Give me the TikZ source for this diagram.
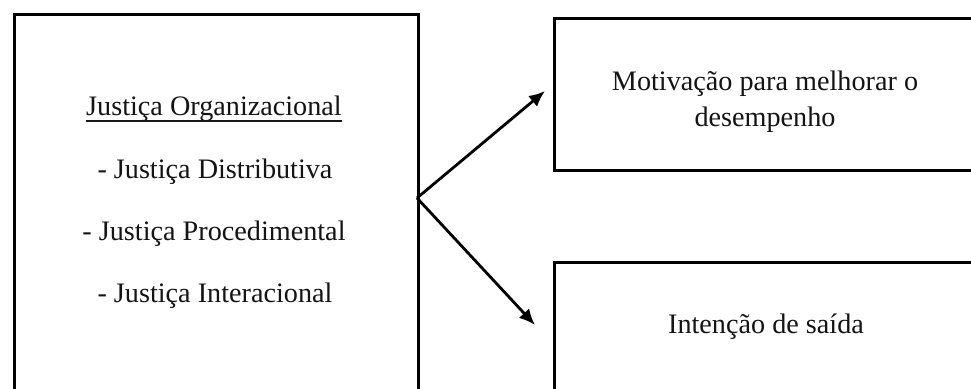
\documentclass[tikz,border=0pt]{standalone}
\usepackage{fontspec}
\setmainfont{Liberation Serif}
\usetikzlibrary{arrows.meta}
\begin{document}
\begin{tikzpicture}[x=1pt,y=-1pt,
  box/.style={draw=black, line width=3.2pt, rectangle, inner sep=0pt, anchor=north west},
  txt/.style={inner sep=0pt, font=\fontsize{28.2}{36}\selectfont, text=black!92},
  conn/.style={draw=black, line width=2.8pt, -{Latex[length=16pt,width=14pt]}}]
\useasboundingbox (0,0) rectangle (971,388);
\clip (0,0) rectangle (971,388);
\fill[white] (0,0) rectangle (971,388);
% boxes
\node[box, minimum width=404pt, minimum height=420pt] (leftbox) at (13,13) {};
\node[box, minimum width=430pt, minimum height=152pt] (topbox) at (553,17) {};
\node[box, minimum width=430pt, minimum height=200pt] (botbox) at (553,261) {};
% left texts
\node[txt, anchor=base] (org) at (214,115) {Justiça Organizacional};
\draw[line width=2pt, black!90] ([yshift=-6pt]org.base west) -- ([yshift=-6pt]org.base east);
\node[txt, anchor=base] (dist) at (215,178) {- Justiça Distributiva};
\node[txt, anchor=base] (proc) at (214,240) {- Justiça Procedimental};
\node[txt, anchor=base] (inter) at (215,302) {- Justiça Interacional};
% right texts
\node[txt, align=center, anchor=center] (motiv) at (765,102) {Motivação para melhorar o\\desempenho};
\node[txt, anchor=base] (saida) at (766,333) {Intenção de saída};
% connectors
\coordinate (src) at (417,198);
\coordinate (tipA) at (545,91);
\coordinate (tipB) at (535,325);
\draw[conn] (src) -- (tipA);
\draw[conn] (src) -- (tipB);
\end{tikzpicture}
\end{document}
